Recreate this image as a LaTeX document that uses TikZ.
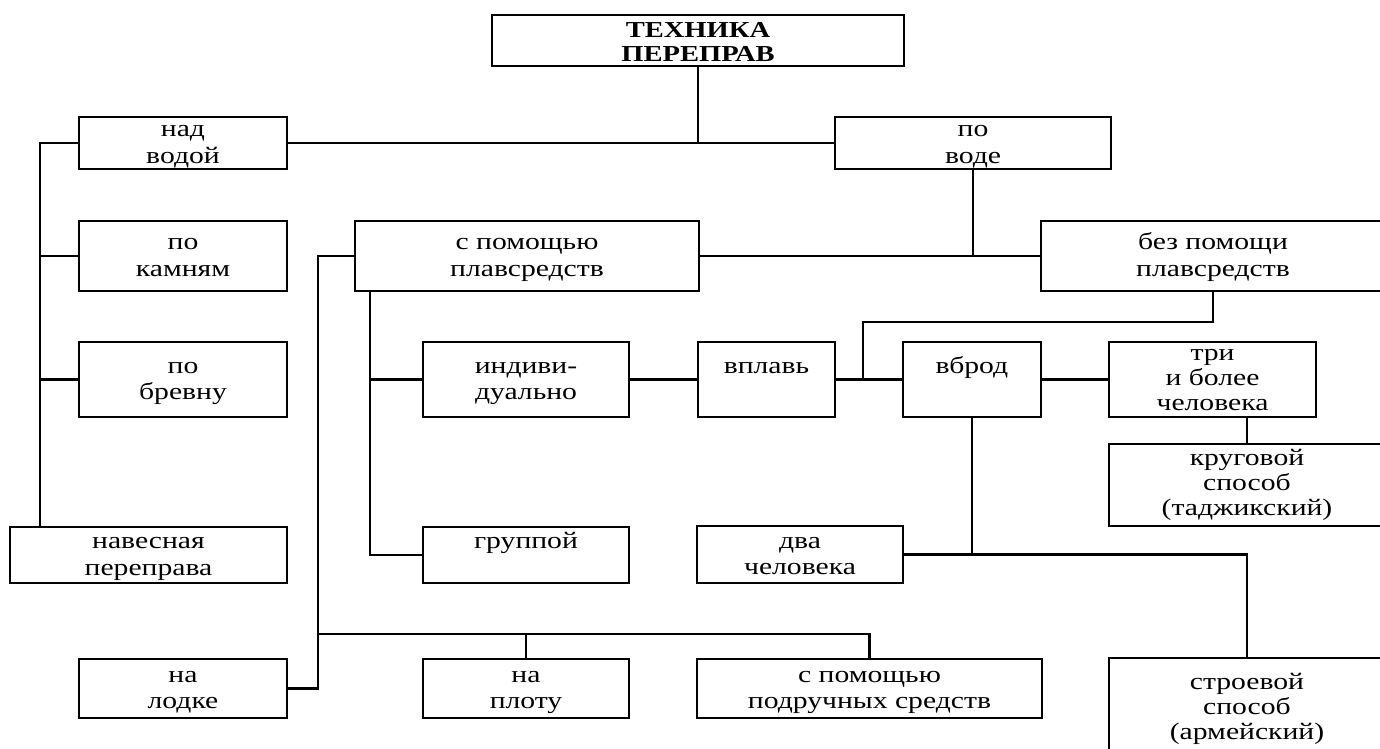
\documentclass[tikz,border=0pt]{standalone}
\usepackage{fontspec}
\setmainfont{Liberation Serif}[FakeStretch=1.25]
\usepackage{tikz}
\usetikzlibrary{positioning, calc}

\begin{document}
\begin{tikzpicture}[x=0.02cm, y=-0.02cm,
    box/.style={draw, line width=1.1pt, inner sep=0pt, align=center,
                font=\fontsize{13.5}{15}\selectfont,
                text height=25pt, text depth=2pt},
    three/.style={text height=37pt, font=\fontsize{13.5}{14.2}\selectfont},
    link/.style={line width=1.3pt}]
  \useasboundingbox (0,0) rectangle (1380,748);

  \node[box, minimum width=8.24cm, minimum height=1.02cm, text height=26.4pt,
        font=\bfseries\fontsize{13}{14}\selectfont] (tech) at (698,40.5) {ТЕХНИКА\\ПЕРЕПРАВ};

  \node[box, minimum width=4.16cm, minimum height=1.04cm] (nad) at (183,143) {над\\водой};
  \node[box, minimum width=5.52cm, minimum height=1.04cm] (povode) at (973,143) {по\\воде};
  \node[box, minimum width=4.16cm, minimum height=1.40cm] (kamni) at (183,256) {по\\камням};
  \node[box, minimum width=4.16cm, minimum height=1.50cm] (brevno) at (183,379.5) {по\\бревну};
  \node[box, minimum width=5.54cm, minimum height=1.12cm] (naves) at (148.5,555) {навесная\\переправа};

  \node[box, minimum width=6.88cm, minimum height=1.40cm] (splav) at (527,256) {с помощью\\плавсредств};
  \node[box, minimum width=6.88cm, minimum height=1.40cm] (bezplav) at (1213,256) {без помощи\\плавсредств};

  \node[box, minimum width=4.12cm, minimum height=1.50cm] (indiv) at (526,379.5) {индиви-\\дуально};
  \node[box, minimum width=4.12cm, minimum height=1.12cm] (gruppoj) at (526,555) {группой\\\mbox{}};
  \node[box, minimum width=2.74cm, minimum height=1.50cm] (vplav) at (766.5,379.5) {вплавь\\\mbox{}};
  \node[box, minimum width=2.76cm, minimum height=1.50cm] (vbrod) at (972,379.5) {вброд\\\mbox{}};
  \node[box, three, minimum width=4.14cm, minimum height=1.50cm] (tri) at (1212.5,379.5) {три\\и более\\человека};
  \node[box, three, minimum width=5.52cm, minimum height=1.64cm] (krug) at (1247,485) {круговой\\способ\\(таджикский)};
  \node[box, minimum width=4.12cm, minimum height=1.14cm] (dva) at (800,554.5) {два\\человека};

  \node[box, minimum width=4.16cm, minimum height=1.18cm] (lodka) at (183,688.5) {на\\лодке};
  \node[box, minimum width=4.12cm, minimum height=1.18cm] (plot) at (526,688.5) {на\\плоту};
  \node[box, minimum width=6.90cm, minimum height=1.18cm] (podruch) at (869.5,688.5) {с помощью\\подручных средств};
  \node[box, three, minimum width=5.52cm, minimum height=2.04cm] (stroy) at (1247,709) {строевой\\способ\\(армейский)};

  \coordinate (lsp) at (40,146);
  \coordinate (bus) at (318,634);
  \coordinate (sp) at (370,300);
  \coordinate (turn) at (863,322);

  \draw[link] (tech.south) -- (tech.south |- nad.east);
  \draw[link] (nad.east) -- (povode.west);
  \draw[link] (nad.west) -| (lsp |- naves.north);
  \draw[link] (kamni.west) -- (kamni.west -| lsp);
  \draw[link] (brevno.west) -- (brevno.west -| lsp);

  \draw[link] (povode.south) -- (povode.south |- splav.east);
  \draw[link] (splav.east) -- (bezplav.west);

  \draw[link] (splav.west) -| (bus) |- (lodka.east);
  \draw[link] (bus) -| (podruch.north);
  \draw[link] (bus -| plot.north) -- (plot.north);

  \draw[link] (splav.south -| sp) |- (gruppoj.west);
  \draw[link] (indiv.west) -- (indiv.west -| sp);
  \draw[link] (indiv) -- (vplav);
  \draw[link] (vplav) -- (vbrod);
  \draw[link] (vbrod) -- (tri);

  \draw[link] (bezplav.south) |- (turn) -- (turn |- vbrod.west);
  \draw[link] (krug.north) -- (krug.north |- tri.south);
  \draw[link] (vbrod.south) -- (vbrod.south |- dva.east);
  \draw[link] (dva.east) -| (stroy.north);
\end{tikzpicture}
\end{document}
